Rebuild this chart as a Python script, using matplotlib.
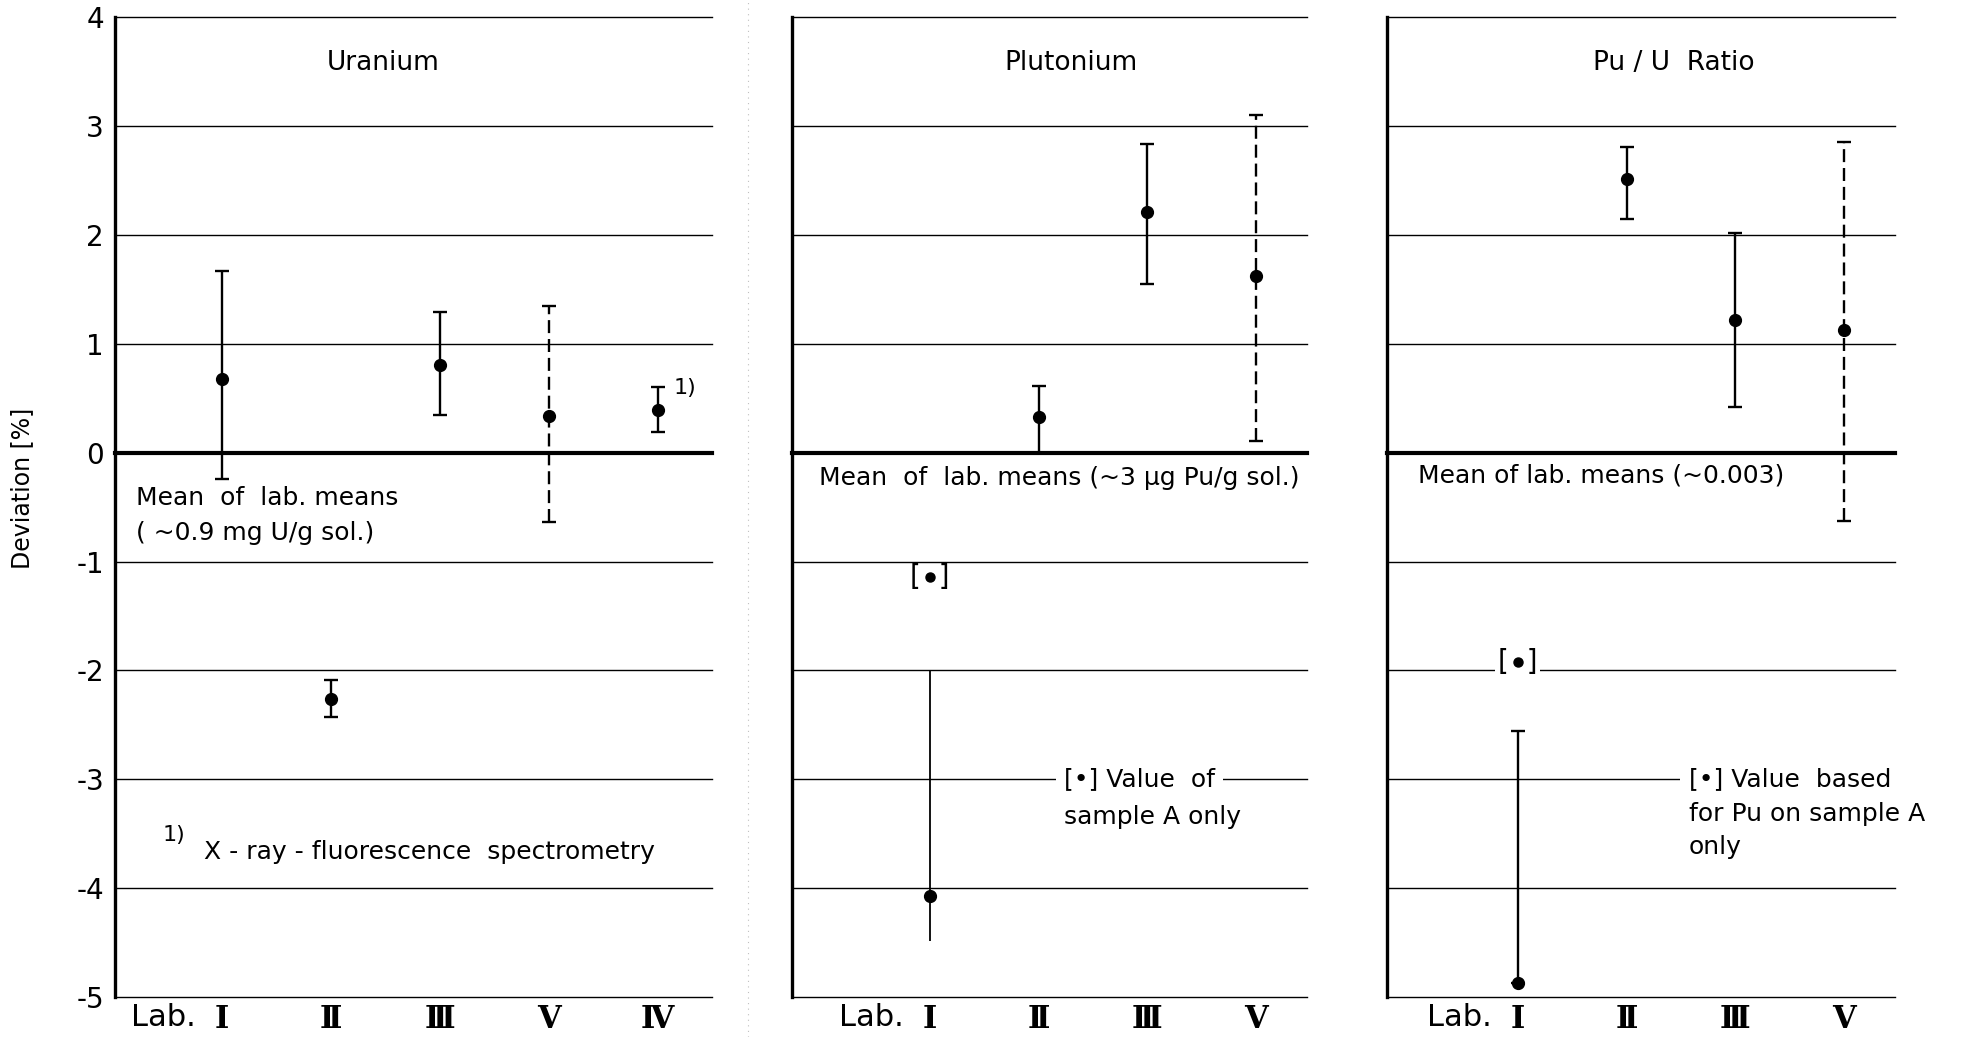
import matplotlib
matplotlib.use("Agg")
import matplotlib.pyplot as plt
from matplotlib.lines import Line2D

# ---- data: deviation from the mean of lab means [%] ----
u_labs = ["I", "II", "III", "V", "IV"]
u_mean = [0.68, -2.26, 0.81, 0.34, 0.39]
u_low = [-0.24, -2.43, 0.35, -0.64, 0.19]
u_high = [1.67, -2.09, 1.29, 1.35, 0.60]

pu_labs = ["I", "II", "III", "V"]
pu_mean = [-4.07, 0.33, 2.21, 1.62]
pu_low = [-4.49, 0.00, 1.55, 0.11]
pu_high = [-2.00, 0.61, 2.84, 3.10]
pu_sample_a = -1.14          # Lab I, sample A only

ratio_labs = ["I", "II", "III", "V"]
ratio_mean = [-4.87, 2.51, 1.22, 1.13]
ratio_low = [-4.87, 2.15, 0.42, -0.63]
ratio_high = [-2.56, 2.81, 2.02, 2.85]
ratio_sample_a = -1.92       # Lab I, Pu on sample A only

y_ticks = [4, 3, 2, 1, 0, -1, -2, -3, -4, -5]

ROMAN = {"I": "\u2160", "II": "\u2161", "III": "\u2162", "IV": "\u2163", "V": "\u2164"}

plt.rcParams["font.family"] = ["DejaVu Sans"]

W, H = 1967, 1037
fig = plt.figure(figsize=(W / 100, H / 100), dpi=100)

bottom = 1 - 997 / H
top = 1 - 17.3 / H
panels = [
    (115, 712, (0.02, 5.5)),
    (792, 1307, (-0.27, 4.47)),
    (1387, 1895, (-0.205, 4.47)),
]

axes = []
for left_px, right_px, xl in panels:
    ax = fig.add_axes([left_px / W, bottom, (right_px - left_px) / W, top - bottom])
    ax.set_xlim(*xl)
    ax.set_ylim(-5, 4)
    for s in ("top", "right", "bottom"):
        ax.spines[s].set_visible(False)
    ax.spines["left"].set_linewidth(2.4)
    for yv in y_ticks:
        ax.axhline(yv, color="k", lw=3.0 if yv == 0 else 1.0, zorder=1, clip_on=False)
    ax.tick_params(length=0)
    ax.set_yticks(y_ticks)
    axes.append(ax)

ax1, ax2, ax3 = axes
ax1.set_yticklabels([str(v) for v in y_ticks], fontsize=20)
ax1.tick_params(axis="y", pad=8)
ax2.set_yticklabels([])
ax3.set_yticklabels([])


def draw_panel(ax, labs, mean, low, high, capless=()):
    xs = list(range(1, len(labs) + 1))
    ax.set_xticks(xs)
    ax.set_xticklabels([ROMAN[l] for l in labs], fontfamily="DejaVu Serif",
                       fontweight="bold", fontsize=22)
    ax.tick_params(axis="x", pad=5)
    ax.annotate("Lab.", xy=(1, 0), xycoords=("data", "axes fraction"),
                xytext=(-19, -4), textcoords="offset points",
                ha="right", va="top", fontsize=22)
    for x, lab, m, lo, hi in zip(xs, labs, mean, low, high):
        no_caps = lab in capless
        eb = ax.errorbar([x], [m], yerr=[[m - lo], [hi - m]], fmt="o", color="k",
                         ms=8.5, elinewidth=1.3 if no_caps else 1.7,
                         capsize=0 if no_caps else 4.8, capthick=1.7, zorder=4)
        if lab == "V":
            eb[2][0].set_linestyle((0, (5.5, 2.5)))


draw_panel(ax1, u_labs, u_mean, u_low, u_high)
draw_panel(ax2, pu_labs, pu_mean, pu_low, pu_high, capless=("I",))
draw_panel(ax3, ratio_labs, ratio_mean, ratio_low, ratio_high)

# sample-A-only values, shown in brackets
ax2.plot([1], [pu_sample_a], "o", color="k", ms=6.5, zorder=6)
ax2.text(1, pu_sample_a, "[  ]", ha="center", va="center", fontsize=20, zorder=5)
ax3.plot([1], [ratio_sample_a], "o", color="k", ms=6.5, zorder=6)
ax3.text(1, ratio_sample_a, "[  ]", ha="center", va="center", fontsize=20, zorder=5,
         bbox=dict(facecolor="white", edgecolor="none", pad=2))

# panel titles
fs = 18
ax1.text(2.48, 3.58, "Uranium", ha="center", va="center", fontsize=19)
ax2.text(2.30, 3.58, "Plutonium", ha="center", va="center", fontsize=19)
ax3.text(2.43, 3.58, "Pu / U  Ratio", ha="center", va="center", fontsize=19)

# reference values
ax1.text(0.21, -0.42, "Mean  of  lab. means", ha="left", va="center", fontsize=fs)
ax1.text(0.21, -0.74, "( ~0.9 mg U/g sol.)", ha="left", va="center", fontsize=fs)
ax2.text(-0.02, -0.23, "Mean  of  lab. means (~3 \u00b5g Pu/g sol.)", ha="left",
         va="center", fontsize=fs)
ax3.text(0.08, -0.21, "Mean of lab. means (~0.003)", ha="left", va="center", fontsize=fs)

# footnote for lab IV
ax1.text(5.15, 0.59, "1)", ha="left", va="center", fontsize=16)
ax1.text(0.46, -3.51, "1)", ha="left", va="center", fontsize=16)
ax1.text(0.84, -3.67, "X - ray - fluorescence  spectrometry", ha="left", va="center",
         fontsize=fs)

# bracket notes
ax2.text(2.235, -3.0, "[\u2022] Value  of", ha="left", va="center", fontsize=fs, zorder=5,
         bbox=dict(facecolor="white", edgecolor="none", pad=6))
ax2.text(2.235, -3.35, "sample A only", ha="left", va="center", fontsize=fs)
ax3.text(2.57, -3.0, "[\u2022] Value  based", ha="left", va="center", fontsize=fs,
         zorder=5, bbox=dict(facecolor="white", edgecolor="none", pad=6))
ax3.text(2.57, -3.32, "for Pu on sample A", ha="left", va="center", fontsize=fs)
ax3.text(2.57, -3.62, "only", ha="left", va="center", fontsize=fs)

fig.text(22 / W, 1 - 488 / H, "Deviation [%]", rotation=90, ha="center", va="center",
         fontsize=17)

# faint fold mark of the printed page
fig.add_artist(Line2D([748 / W, 748 / W], [0, 1], transform=fig.transFigure,
                      color="0.75", lw=0.8, ls=(0, (1, 4))))

fig.savefig("out.png", dpi=100, facecolor="white")
